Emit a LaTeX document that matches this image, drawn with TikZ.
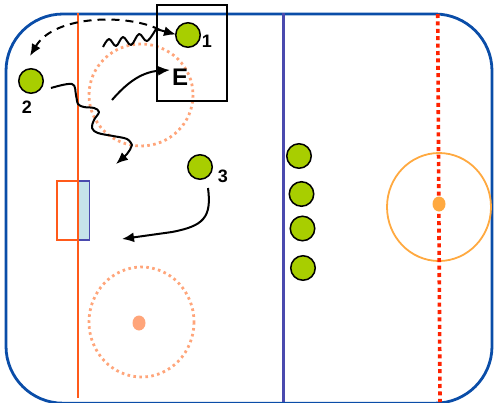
\documentclass[tikz,border=0pt]{standalone}
\usepackage{fontspec}
\setmainfont{Liberation Sans}
\usetikzlibrary{arrows.meta}
\definecolor{rinkblue}{HTML}{0A4DA8}
\definecolor{goalorange}{HTML}{FF5A1A}
\definecolor{blueline}{HTML}{4A4AAE}
\definecolor{centerred}{HTML}{FF2200}
\definecolor{centerorange}{HTML}{FFA940}
\definecolor{salmon}{HTML}{FFA57A}
\definecolor{playergreen}{HTML}{A8CE00}
\definecolor{crease}{HTML}{C5E3EA}
\tikzset{
  player/.style={circle, draw=black, line width=1.5pt, fill=playergreen, minimum size=24.5pt, inner sep=0pt},
  plabel/.style={font=\bfseries\fontsize{18}{18}\selectfont, inner sep=0pt},
  move/.style={line width=2pt, -{Latex[length=12pt,width=10pt]}},
  faceoff/.style={salmon, line width=2.8pt, dash pattern=on 2.6pt off 3.4pt},
}
\begin{document}
\begin{tikzpicture}[x=1pt,y=-1pt]
\useasboundingbox (0,0) rectangle (494,402);
% rink
\draw[rinkblue, line width=2.8pt, rounded corners=57pt] (6,200) -- (6,14) -- (492,14) -- (492,403.2) -- (6,403.2) -- cycle;
% faceoff circles
\draw[faceoff] (141,95) ellipse [x radius=52, y radius=51];
\draw[faceoff] (141.5,322) ellipse [x radius=52.5, y radius=55];
\fill[salmon] (139,323) ellipse [x radius=6.5, y radius=7.5];
% center circle
\draw[centerorange, line width=1.8pt] (439,207) ellipse [x radius=52, y radius=54];
% center red line
\draw[centerred, line width=3.6pt, dash pattern=on 4pt off 3.4pt] (437.7,14) -- (440,402);
\fill[centerorange] (439,204) ellipse [x radius=6.5, y radius=7.5];
% blue line
\draw[blueline, line width=2.2pt] (283.5,13) -- (283.5,402);
% goal
\draw[blueline, fill=crease, line width=1.3pt] (78,181) rectangle (89.5,240);
\draw[goalorange, line width=2.4pt] (57,181) rectangle (78,240);
\draw[goalorange, line width=2pt] (78,13) -- (78,398);
% box around player 1
\node[draw=black, line width=1.5pt, minimum width=70pt, minimum height=96pt, inner sep=0pt] (box) at (192,53) {};
% players
\node[player] (p1) at (188,35) {};
\node[player] (p2) at (31,81) {};
\node[player] (p3) at (200,167) {};
\node[player] (d1) at (299,156) {};
\node[player] (d2) at (301.5,194) {};
\node[player] (d3) at (302.5,228.5) {};
\node[player] (d4) at (303,268) {};
\node[plabel] (l1) at (207,41) {1};
\node[plabel] (l2) at (27,107) {2};
\node[plabel] (l3) at (223,176) {3};
\node[font=\bfseries\fontsize{24}{24}\selectfont, inner sep=0pt] (e) at (180,77) {E};
% coordinates for connectors
\coordinate (dstart) at (160,30);
\coordinate (dend) at (30,56);
\coordinate (w1start) at (103,47);
\coordinate (w1end) at (176,34.5);
\coordinate (w2start) at (51,88);
\coordinate (w2end) at (116,164);
\coordinate (estart) at (112,100);
\coordinate (eend) at (170,70);
\coordinate (p3start) at (208,188);
\coordinate (p3end) at (122,239);
% dashed pass
\draw[move, dash pattern=on 8pt off 6pt] (dstart) .. controls (130,14) and (55,14) .. (dend);
% wavy skate to 1
\draw[line width=2pt, line join=round] plot[smooth, tension=0.6] coordinates {(103,47) (109,39) (116,46) (123,37) (131,45) (139,34) (147,41) (156,29)};
\draw[move] (156,29) -- (w1end);
% wavy skate from 2
\draw[line width=2pt, line join=round] plot[smooth, tension=0.6] coordinates {(51,88) (72,84) (76,95) (78,104) (84,107) (94,108) (99,112) (94,120) (92,128) (98,133) (113,136) (127,139) (132,145)};
\draw[move] (132,145) .. controls (130,152) and (124,157) .. (w2end);
% arrow to E
\draw[move] (estart) .. controls (125,85) and (140,72) .. (eend);
% arrow from 3
\draw[move] (p3start) .. controls (212,218) and (203,226) .. (172,232) -- (p3end);
\end{tikzpicture}
\end{document}
